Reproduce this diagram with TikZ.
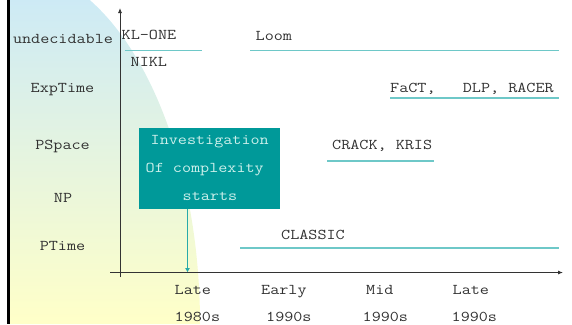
\documentclass[tikz,border=0pt]{standalone}
\usepackage{fontspec}
\setmonofont{Latin Modern Mono}[FakeStretch=1.18]
\usetikzlibrary{arrows.meta}
\definecolor{tealbox}{RGB}{0,153,153}
\definecolor{tline}{RGB}{110,200,200}
\definecolor{tarrow}{RGB}{40,170,170}
\definecolor{txt}{RGB}{50,50,50}
\definecolor{boxtxt}{RGB}{205,240,235}
\definecolor{bgblue}{RGB}{200,232,250}
\definecolor{bgyellow}{RGB}{255,255,200}
\begin{document}
\begin{tikzpicture}[x=1bp,y=-1bp,
  lbl/.style={font=\ttfamily\fontsize{15}{18}\selectfont, text=txt, inner sep=0pt, anchor=base west},
  side/.style={font=\ttfamily\fontsize{15}{18}\selectfont, text=txt, inner sep=0pt, anchor=base},
  btxt/.style={font=\ttfamily\fontsize{15}{18}\selectfont, text=boxtxt, inner sep=0pt, anchor=base west},
  era/.style={line width=1.6bp, draw=tline},
  axis/.style={line width=0.8bp, draw=black!80, -{Latex[length=5bp,width=4bp]}}]
\useasboundingbox (0,0) rectangle (572,324);
\begin{scope}
  \clip (0,0) rectangle (572,324);
  \shade[top color=bgblue, bottom color=bgyellow]
    (8,324) -- (8,-34) arc[start angle=-90, end angle=0, x radius=192, y radius=358] -- cycle;
\end{scope}
\draw[line width=2.5bp, black] (8.5,0) -- (8.5,324);
% axes
\coordinate (ybot) at (120,277);
\coordinate (ytop) at (120,8);
\coordinate (xleft) at (110,272.5);
\coordinate (xright) at (563,272.5);
\draw[axis] (ybot) -- (ytop);
\draw[axis] (xleft) -- (xright);
% complexity labels
\node[side] (und) at (63,43.5) {undecidable};
\node[side] (exp) at (62.5,92) {ExpTime};
\node[side] (psp) at (62.5,149.3) {PSpace};
\node[side] (np) at (63,202.3) {NP};
\node[side] (pt) at (62.5,250.3) {PTime};
% systems
\node[lbl] (klone) at (121.5,39.5) {KL-ONE};
\node[lbl] (loom) at (255.5,40.5) {Loom};
\node[lbl] (nikl) at (130.5,66) {NIKL};
\node[lbl] (fact) at (390,92.5) {FaCT,\ \ \ DLP, RACER};
\node[lbl] (crack) at (332,149.3) {CRACK, KRIS};
\node[lbl] (classic) at (281,239.3) {CLASSIC};
% era lines
\coordinate (k1) at (125,50.5); \coordinate (k2) at (202,50.5);
\coordinate (l1) at (250,50.5); \coordinate (l2) at (559,50.5);
\coordinate (f1) at (390,98); \coordinate (f2) at (559,98);
\coordinate (c1) at (327,161); \coordinate (c2) at (434,161);
\coordinate (s1) at (240,248); \coordinate (s2) at (559,248);
\draw[era] (k1) -- (k2);
\draw[era] (l1) -- (l2);
\draw[era] (f1) -- (f2);
\draw[era] (c1) -- (c2);
\draw[era] (s1) -- (s2);
% box
\node[fill=tealbox, minimum width=141bp, minimum height=81bp, inner sep=0pt] (box) at (209.5,168.5) {};
\node[btxt] (b1) at (150.5,144) {Investigation};
\node[btxt] (b2) at (145.5,172.3) {Of complexity};
\node[btxt] (b3) at (182.5,200) {starts};
\coordinate (aend) at (187.5,272);
\draw[tarrow, line width=0.8bp, -{Triangle[length=4bp,width=4.5bp]}] (box.south -| aend) -- (aend);
% time labels
\node[lbl] (t1a) at (174.5,294.3) {Late};
\node[lbl] (t1b) at (174.5,321.7) {1980s};
\node[lbl] (t2a) at (261,294.3) {Early};
\node[lbl] (t2b) at (266,321.7) {1990s};
\node[lbl] (t3a) at (366,294.3) {Mid};
\node[lbl] (t3b) at (362.5,321.7) {1990s};
\node[lbl] (t4a) at (452.5,294.3) {Late};
\node[lbl] (t4b) at (451.5,321.7) {1990s};
\end{tikzpicture}
\end{document}
